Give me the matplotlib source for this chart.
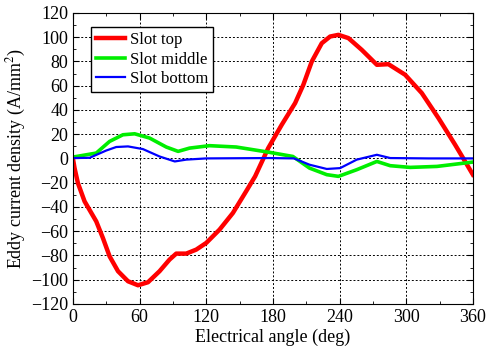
import numpy as np
import matplotlib
matplotlib.use("Agg")
import matplotlib.pyplot as plt
from matplotlib.ticker import MultipleLocator

# Slot top (red)
top_deg = [0, 1.5, 4.5, 10.5, 21, 27, 33, 40.6, 49.6, 58.6, 67.6, 78, 87, 93, 102, 111, 120,
           132, 144, 156, 164, 175.8, 188, 200, 207.4, 215, 224, 231.5, 239, 248, 260,
           273.6, 284, 299, 314, 329, 344, 353, 360]
top_val = [0, -8, -20.3, -35.4, -51.9, -65.6, -80.7, -93, -101.3, -104.6, -102.1, -93,
           -83.4, -78.5, -78.5, -75.2, -69.7, -58.7, -45, -27, -14.8, 8.5, 27.8, 45.6,
           60.7, 79.9, 95, 100.5, 101.9, 99.2, 89.5, 77.2, 77.7, 69, 53.9, 33.3, 11.3,
           -2.5, -13.4]

# Slot middle (green)
mid_deg = [0, 21, 33, 45, 55.6, 69, 84, 94.7, 105, 123, 147, 177, 198, 213, 228.5, 239,
           255.5, 273.6, 285.6, 303.6, 327.7, 360]
mid_val = [1.1, 4.4, 14, 19.5, 20.3, 16.8, 9.4, 5.8, 8.5, 10.5, 9.4, 5, 1.6, -8, -13.4,
           -14.8, -9.3, -2.5, -6, -7.4, -6.6, -3]

# Slot bottom (blue)
bot_deg = [0, 15, 30, 39, 49.6, 63, 78, 91.7, 102, 120, 177, 199, 213, 228.5, 240.5, 255.5,
           273.6, 285.6, 320, 360]
bot_val = [0.3, 0.5, 6.5, 9.4, 9.9, 7.7, 1.6, -2.5, -1, 0, 0.3, 0, -5.2, -8.7, -8, -1, 3,
           0.3, 0, 0]

plt.rcParams["font.family"] = ["Liberation Serif", "DejaVu Serif"]
plt.rcParams["mathtext.fontset"] = "stix"

fig = plt.figure(figsize=(4.86, 3.58), dpi=100)
ax = fig.add_axes([0.150, 0.151, 0.823, 0.813])

ax.plot(top_deg, top_val, color="#ff0000", lw=3.2, label="Slot top",
        solid_joinstyle="round")
ax.plot(mid_deg, mid_val, color="#00ee00", lw=2.6, label="Slot middle",
        solid_joinstyle="round")
ax.plot(bot_deg, bot_val, color="#0000ff", lw=1.6, label="Slot bottom",
        solid_joinstyle="round")

ax.set_xlim(0, 360)
ax.set_ylim(-120, 120)
ax.xaxis.set_major_locator(MultipleLocator(60))
ax.xaxis.set_minor_locator(MultipleLocator(30))
ax.yaxis.set_major_locator(MultipleLocator(20))
ax.yaxis.set_minor_locator(MultipleLocator(10))
ax.tick_params(which="both", direction="in", top=True, right=True, labelsize=13)
ax.tick_params(which="major", length=4)
ax.tick_params(which="minor", length=2)
ax.grid(True, which="major", ls=(0, (2, 2)), color="black", lw=0.7)

ax.set_xlabel("Electrical angle (deg)", fontsize=13, labelpad=2)
ax.set_ylabel("Eddy current density (A/mm$^2$)", fontsize=13, labelpad=2)

leg = ax.legend(loc="upper left", bbox_to_anchor=(0.045, 0.952), borderaxespad=0,
                fontsize=12, frameon=True, fancybox=False, edgecolor="black",
                framealpha=1, handlelength=1.75, handletextpad=0.3, borderpad=0.3,
                labelspacing=0.22)
leg.get_frame().set_linewidth(1.0)

fig.savefig("out.png", dpi=100)
